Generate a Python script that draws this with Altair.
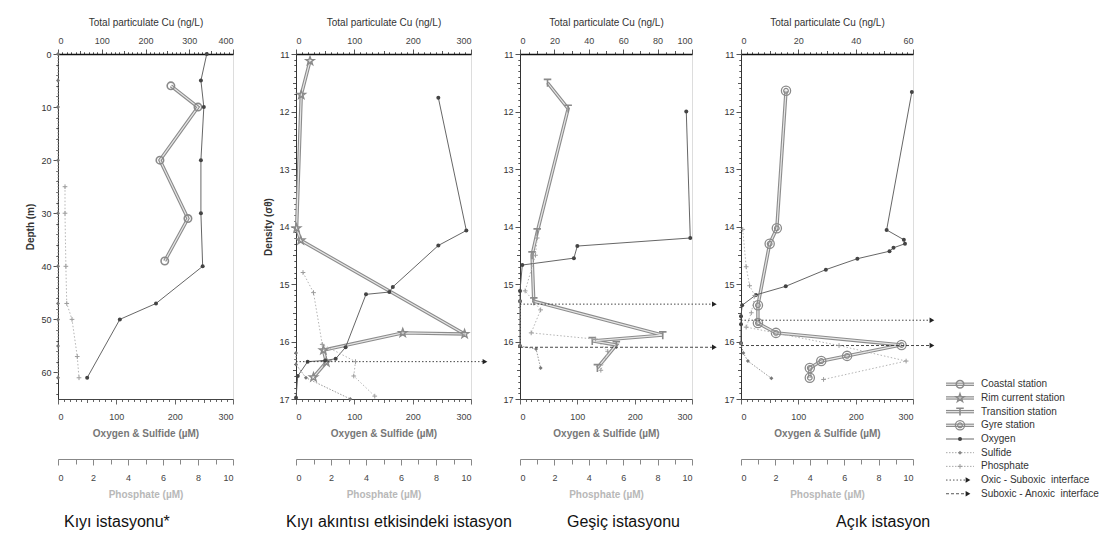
import altair as alt
import pandas as pd

FONT = "Liberation Sans"

# ---------------- data ----------------
# Panel 1 - Kıyı istasyonu (depth, m)
coastal_depth = [6, 10, 20, 31, 39]
coastal_cu = [258, 320, 233, 297, 244]
p1_ox_depth = [0, 5, 10, 20, 30, 40, 47, 50, 61]
p1_ox = [255, 245, 250, 245, 245, 248, 168, 106, 50]
p1_su_depth = [0, 5, 10, 20, 30, 40, 47, 50, 55, 61]
p1_su = [0, 0, 0, 0, 0, 0, 0, 0, 0, 0]
p1_ph_depth = [25, 30, 40, 47, 50, 57, 61]
p1_ph = [0.4, 0.4, 0.45, 0.5, 0.8, 1.1, 1.2]

# Panel 2 - rim current station (density, sigma-theta)
rim_sigma = [11.12, 11.71, 14.03, 14.24, 15.87, 15.85, 16.15, 16.36, 16.62]
rim_cu = [24, 9, 1, 8, 289, 183, 47, 52, 30]
p2_ox_sigma = [11.76, 14.07, 14.33, 15.05, 15.14, 15.18, 16.1, 16.3, 16.33, 16.35, 16.6, 16.98]
p2_ox = [244, 292, 244, 166, 160, 120, 85, 68, 50, 20, 3, 0]
p2_su_sigma = [16.2, 16.4, 16.63, 17.0]
p2_su = [0, 0, 17, 93]
p2_ph_sigma = [14.8, 15.15, 16.05, 16.35, 16.6, 16.95]
p2_ph = [0.4, 1.0, 1.5, 3.4, 3.3, 4.5]
p2_if_sigma = [16.35]
p2_if_kind = ["Oxic - Suboxic\u00a0 interface"]
p2_if_end = [324]

# Panel 3 - transition station
trans_sigma = [11.5, 11.95, 14.1, 14.5, 15.3, 15.89, 15.99, 16.06, 16.46]
trans_cu = [16, 28, 10, 7, 8, 83, 42, 56, 45]
p3_ox_sigma = [12.0, 14.2, 14.34, 14.55, 14.67, 15.12, 15.3, 16.08]
p3_ox = [290, 297, 100, 94, 4, 0, 0, 0]
p3_su_sigma = [15.3, 16.08, 16.13, 16.46]
p3_su = [0, 0, 28, 36]
p3_ph_sigma = [14.2, 14.5, 15.12, 15.45, 15.85, 15.96, 16.17, 16.5]
p3_ph = [1.0, 0.9, 0.3, 1.2, 0.65, 4.4, 5.1, 4.7]
p3_if_sigma = [15.35, 16.1]
p3_if_kind = ["Oxic - Suboxic\u00a0 interface", "Suboxic - Anoxic\u00a0 interface"]
p3_if_end = [339, 339]

# Panel 4 - gyre station
gyre_sigma = [11.64, 14.03, 14.3, 15.37, 15.68, 15.85, 16.06, 16.25, 16.34, 16.46, 16.63]
gyre_cu = [15.7, 12.5, 10, 5.9, 5.9, 12.2, 56, 37, 28, 24, 24]
p4_ox_sigma = [11.66, 14.06, 14.23, 14.3, 14.37, 14.43, 14.56, 14.75, 15.04, 15.19, 15.37, 15.56, 15.7, 16.03]
p4_ox = [298, 254, 284, 286, 266, 259, 203, 148, 78, 26, 2, 0, 0, 0]
p4_su_sigma = [16.03, 16.2, 16.34, 16.64]
p4_su = [0, 4, 12, 53]
p4_ph_sigma = [14.05, 14.7, 15.03, 15.2, 15.5, 15.75, 16.07, 16.34, 16.66]
p4_ph = [0.1, 0.3, 0.5, 0.8, 0.6, 0.3, 5.7, 9.6, 4.8]
p4_if_sigma = [15.63, 16.07]
p4_if_kind = ["Oxic - Suboxic\u00a0 interface", "Suboxic - Anoxic\u00a0 interface"]
p4_if_end = [333, 333]

station_names = ["Kıyı istasyonu*", "Kıyı akıntısı etkisindeki istasyon",
                 "Geşiç istasyonu", "Açık istasyon"]
legend_labels = ["Coastal station", "Rim current station", "Transition station",
                 "Gyre station", "Oxygen", "Sulfide", "Phosphate",
                 "Oxic - Suboxic\u00a0 interface", "Suboxic - Anoxic\u00a0 interface"]
interface_kinds = legend_labels[7:]

# tick value lists
depth_ticks = list(range(0, 65, 2))
sigma_ticks = [round(11 + k * 0.1, 1) for k in range(61)]
cu_ticks_1 = list(range(0, 401, 10))
cu_ticks_2 = list(range(0, 301, 10))
cu_ticks_3 = list(range(0, 101, 5))
cu_ticks_4 = list(range(0, 61, 2))
os_ticks = list(range(0, 301, 10))
ph_ticks = list(range(0, 11))

# ---------------- styling helpers ----------------
GREY = "#8a8a8a"
STAR = "M0,-1L0.24,-0.33L0.95,-0.31L0.38,0.12L0.59,0.81L0,0.4L-0.59,0.81L-0.38,0.12L-0.95,-0.31L-0.24,-0.33Z"
TEE = "M-0.9,-0.8L0.9,-0.8M0,-0.8L0,0.95"
PLUS = "M-1,0L1,0M0,-1L0,1"

marks_coastal = [dict(shape="circle", filled=False, size=55, strokeWidth=1.6, color=GREY, opacity=1)]
marks_rim = [dict(shape=STAR, filled=False, size=75, strokeWidth=1.4, color=GREY, opacity=1)]
marks_trans = [dict(shape=TEE, filled=False, size=70, strokeWidth=1.6, color=GREY, opacity=1)]
marks_gyre = [dict(shape="circle", filled=False, size=85, strokeWidth=1.3, color=GREY, opacity=1),
              dict(shape="circle", filled=False, size=22, strokeWidth=1.2, color=GREY, opacity=1)]


def prof(y, v):
    return pd.DataFrame({"y": y, "v": v, "i": list(range(len(y)))})


def arrows_df(y, kind, end):
    return pd.DataFrame({"y": y, "kind": kind, "x0": [0] * len(y), "x1": end})


def int_ticks(major, mid, big=5, med=3.5, small=2.2):
    return alt.ExprRef(f"datum.value % {major} === 0 ? {big} : (datum.value % {mid} === 0 ? {med} : {small})")


def panel(name, dx, width, ycfg, cu, station, ox, su, ph, arrows=None):
    ydom, yvals, ylab, ytick, ytitle = ycfg
    y_axis = alt.Axis(orient="left", values=yvals, labelExpr=ylab, tickSize=ytick,
                      title=ytitle, grid=False, domainColor="#333", tickColor="#555",
                      labelColor="#333", labelFontSize=9, labelPadding=2,
                      titleFontSize=10, titleFontWeight="bold", titleColor="#333",
                      titlePadding=5)

    def Y():
        return alt.Y("y:Q", scale=alt.Scale(domain=ydom, reverse=True, nice=False, zero=False),
                     axis=y_axis)

    cu_df, cu_dom, cu_vals, cu_major, cu_mid = cu
    cu_axis = alt.Axis(orient="top", values=cu_vals,
                       labelExpr=f"datum.value % {cu_major} === 0 ? '' + datum.value : ''",
                       tickSize=int_ticks(cu_major, cu_mid),
                       title="Total particulate Cu (ng/L)", grid=False,
                       domainColor="#111", domainWidth=1.3, tickColor="#555",
                       labelColor="#444", labelFontSize=9, labelPadding=4,
                       titleFontSize=10, titleFontWeight="normal", titleColor="#333",
                       titlePadding=9)
    xcu = alt.X("v:Q", scale=alt.Scale(domain=cu_dom, nice=False, zero=False), axis=cu_axis)
    cb = alt.Chart(cu_df)
    cu_layers = [
        cb.mark_line(color="#8c8c8c", strokeWidth=3.4, clip=False).encode(x=xcu, y=Y(), order="i:Q"),
        cb.mark_line(color="#e6e6e6", strokeWidth=1.2, clip=False).encode(x=xcu, y=Y(), order="i:Q"),
    ] + [cb.mark_point(clip=False, **m).encode(x=xcu, y=Y()) for m in station]
    cu_group = alt.layer(*cu_layers)

    os_axis = alt.Axis(orient="bottom", values=os_ticks,
                       labelExpr="datum.value % 100 === 0 ? '' + datum.value : ''",
                       tickSize=int_ticks(100, 50, 5, 3.5, 2.5),
                       title="Oxygen & Sulfide (µM)", grid=False,
                       domainColor="#444", tickColor="#666", labelColor="#444",
                       labelFontSize=9, labelPadding=8, titleFontSize=10,
                       titleFontWeight="bold", titleColor="#777", titlePadding=7)

    def xos(f):
        return alt.X(f"{f}:Q", scale=alt.Scale(domain=[0, 300], nice=False, zero=False), axis=os_axis)

    os_layers = [
        alt.Chart(ox).mark_line(color="#555", strokeWidth=0.9, clip=False).encode(x=xos("v"), y=Y(), order="i:Q"),
        alt.Chart(ox).mark_point(shape="circle", filled=True, size=16, color="#444", opacity=1, clip=False).encode(x=xos("v"), y=Y()),
        alt.Chart(su).mark_line(color="#9a9a9a", strokeWidth=1, strokeDash=[1.5, 1.5], clip=False).encode(x=xos("v"), y=Y(), order="i:Q"),
        alt.Chart(su).mark_point(shape="diamond", filled=True, size=16, color="#777", opacity=1, clip=False).encode(x=xos("v"), y=Y()),
    ]
    if arrows is not None:
        os_layers += [
            alt.Chart(arrows).mark_rule(color="#333", strokeWidth=0.9, clip=False).encode(
                x=xos("x0"), x2="x1:Q", y=Y(),
                strokeDash=alt.StrokeDash("kind:N", scale=alt.Scale(domain=interface_kinds, range=[[1.5, 2], [3, 2]]), legend=None)),
            alt.Chart(arrows).mark_point(shape="triangle-right", filled=True, size=30, color="#222", opacity=1, clip=False).encode(
                x=xos("x1"), y=Y()),
        ]
    os_group = alt.layer(*os_layers)

    p_axis = alt.Axis(orient="bottom", offset=60, values=ph_ticks,
                      labelExpr="datum.value % 2 === 0 ? '' + datum.value : ''",
                      tickSize=int_ticks(2, 1, 6, 5, 5),
                      title="Phosphate (µM)", grid=False,
                      domainColor="#888", tickColor="#888", labelColor="#444",
                      labelFontSize=9, labelPadding=8, titleFontSize=10,
                      titleFontWeight="bold", titleColor="#b8b8b8", titlePadding=7)
    xp = alt.X("v:Q", scale=alt.Scale(domain=[0, 10], nice=False, zero=False), axis=p_axis)
    p_group = alt.layer(
        alt.Chart(ph).mark_line(color="#b5b5b5", strokeWidth=1, strokeDash=[1.5, 2], clip=False).encode(x=xp, y=Y(), order="i:Q"),
        alt.Chart(ph).mark_point(shape=PLUS, filled=False, size=22, strokeWidth=1, color="#9c9c9c", opacity=1, clip=False).encode(x=xp, y=Y()),
    )

    return alt.layer(cu_group, os_group, p_group).resolve_scale(x="independent").properties(
        width=width, height=345,
        title=alt.TitleParams(text=name, orient="bottom", anchor="start", frame="group",
                              dx=dx, offset=15, fontSize=16, fontWeight="normal",
                              font=FONT, color="#111"))


DEN_LAB = "abs(datum.value - round(datum.value)) < 0.01 ? '' + round(datum.value) : ''"
DEN_TICK = alt.ExprRef("abs(datum.value - round(datum.value)) < 0.01 ? 5 : (abs(datum.value*2 - round(datum.value*2)) < 0.01 ? 3.5 : 2.2)")
depth_cfg = ([0, 65], depth_ticks, "datum.value % 10 === 0 ? '' + datum.value : ''",
             int_ticks(10, 10), "Depth (m)")
den_cfg_t = ([11, 17], sigma_ticks, DEN_LAB, DEN_TICK, "Density (σθ)")
den_cfg = ([11, 17], sigma_ticks, DEN_LAB, DEN_TICK, None)

p1 = panel(station_names[0], 6, 175, depth_cfg,
           (prof(coastal_depth, coastal_cu), [0, 400], cu_ticks_1, 100, 50), marks_coastal,
           prof(p1_ox_depth, p1_ox), prof(p1_su_depth, p1_su), prof(p1_ph_depth, p1_ph))
p2 = panel(station_names[1], -10, 175, den_cfg_t,
           (prof(rim_sigma, rim_cu), [0, 300], cu_ticks_2, 100, 50), marks_rim,
           prof(p2_ox_sigma, p2_ox), prof(p2_su_sigma, p2_su), prof(p2_ph_sigma, p2_ph),
           arrows_df(p2_if_sigma, p2_if_kind, p2_if_end))
p3 = panel(station_names[2], 47, 172, den_cfg,
           (prof(trans_sigma, trans_cu), [0, 100], cu_ticks_3, 20, 10), marks_trans,
           prof(p3_ox_sigma, p3_ox), prof(p3_su_sigma, p3_su), prof(p3_ph_sigma, p3_ph),
           arrows_df(p3_if_sigma, p3_if_kind, p3_if_end))
p4 = panel(station_names[3], 95, 172, den_cfg,
           (prof(gyre_sigma, gyre_cu), [0, 60], cu_ticks_4, 20, 10), marks_gyre,
           prof(p4_ox_sigma, p4_ox), prof(p4_su_sigma, p4_su), prof(p4_ph_sigma, p4_ph),
           arrows_df(p4_if_sigma, p4_if_kind, p4_if_end))

# ---------------- legend panel ----------------
leg_df = pd.DataFrame({"label": legend_labels})
LY = alt.Y("label:N", scale=alt.Scale(domain=legend_labels, range=[320, 450], padding=0.5), axis=None)
lb = alt.Chart(leg_df)


def rows(names):
    return lb.transform_filter(alt.FieldOneOfPredicate(field="label", oneOf=names))


LX0, LX1, LXM, LXA, LXT = alt.value(-16), alt.value(12), alt.value(-2), alt.value(6), alt.value(19)
stations = legend_labels[:4]
leg_layers = [
    rows(stations).mark_rule(color="#8c8c8c", strokeWidth=3.4).encode(x=LX0, x2=LX1, y=LY),
    rows(stations).mark_rule(color="#e6e6e6", strokeWidth=1.2).encode(x=LX0, x2=LX1, y=LY),
    rows(["Oxygen"]).mark_rule(color="#555", strokeWidth=0.9).encode(x=LX0, x2=LX1, y=LY),
    rows(["Sulfide", "Phosphate"]).mark_rule(color="#aaa", strokeWidth=1, strokeDash=[1.5, 1.5]).encode(x=LX0, x2=LX1, y=LY),
    rows(interface_kinds).mark_rule(color="#444", strokeWidth=0.9).encode(
        x=LX0, x2=alt.value(4), y=LY,
        strokeDash=alt.StrokeDash("label:N", scale=alt.Scale(domain=interface_kinds, range=[[1.5, 2], [3, 2]]), legend=None)),
    rows(interface_kinds).mark_point(shape="triangle-right", filled=True, size=30, color="#222", opacity=1).encode(x=LXA, y=LY),
    rows(["Oxygen"]).mark_point(shape="circle", filled=True, size=16, color="#444", opacity=1).encode(x=LXM, y=LY),
    rows(["Sulfide"]).mark_point(shape="diamond", filled=True, size=16, color="#888", opacity=1).encode(x=LXM, y=LY),
    rows(["Phosphate"]).mark_point(shape=PLUS, filled=False, size=22, strokeWidth=1, color="#9c9c9c", opacity=1).encode(x=LXM, y=LY),
]
for lab, ms in zip(stations, [marks_coastal, marks_rim, marks_trans, marks_gyre]):
    for m in ms:
        leg_layers.append(rows([lab]).mark_point(**m).encode(x=LXM, y=LY))
leg_layers.append(lb.mark_text(align="left", baseline="middle", fontSize=10, color="#333", font=FONT).encode(
    x=LXT, y=LY, text="label:N"))
legend = alt.layer(*leg_layers).properties(width=100, height=345,
                                           view=alt.ViewConfig(stroke="transparent", strokeWidth=0))

inner = alt.hconcat(p2, p3, p4, legend, spacing=49, bounds="flush")
chart = alt.hconcat(p1, inner, spacing=63, bounds="flush").properties(
    padding={"left": 17, "top": 8, "right": 0, "bottom": 0}
).configure_view(stroke="transparent", strokeWidth=0).configure(font=FONT)

chart.save("out.html", embed_options={"renderer": "svg", "actions": False})
